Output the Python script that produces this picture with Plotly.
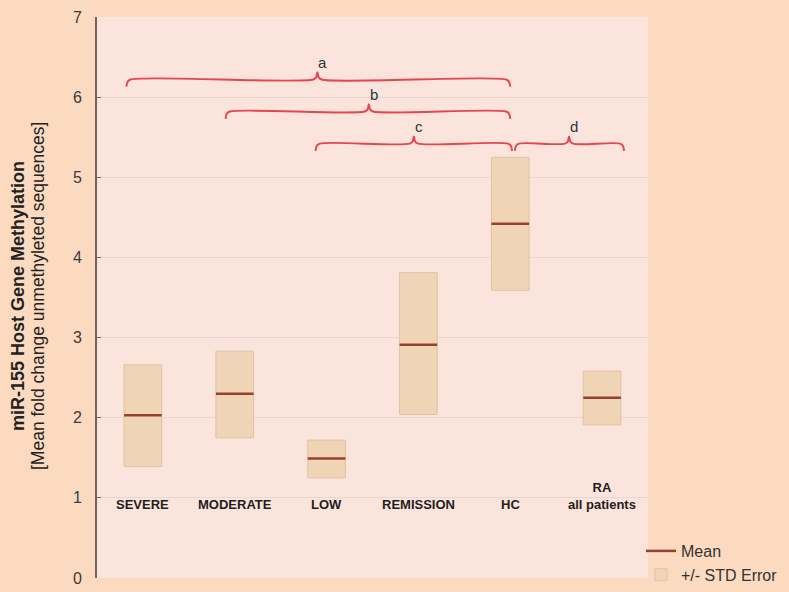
import plotly.graph_objects as go

# groups and values
groups = ["SEVERE", "MODERATE", "LOW", "REMISSION", "HC", "RA<br>all patients"]
mean_vals = [2.03, 2.30, 1.49, 2.91, 4.42, 2.25]
se_low = [1.39, 1.75, 1.25, 2.04, 3.59, 1.91]
se_high = [2.66, 2.83, 1.72, 3.81, 5.25, 2.58]

# significance brackets: label, start, end, tip position, height
br_labels = ["a", "b", "c", "d"]
br_start = [-0.18, 0.90, 1.88, 4.05]
br_end = [4.00, 4.00, 4.02, 5.24]
br_tip = [1.90, 2.46, 2.95, 4.64]
br_y = [6.22, 5.82, 5.42, 5.42]

ytick_vals = [0, 1, 2, 3, 4, 5, 6, 7]

paper_bg = "#fcdabf"
plot_bg = "#fbe4db"
box_fill = "#efd4b6"
box_line = "#e0c2a4"
mean_col = "#98402f"
brace_col = "#e6464f"
axis_col = "#75625a"
font_fam = "Liberation Sans, Arial, sans-serif"

W, H = 789, 592
box_w = 0.41
xpos = list(range(len(groups)))

fig = go.Figure()

# +/- STD error boxes
fig.add_trace(go.Bar(
    x=xpos, y=[h - l for h, l in zip(se_high, se_low)], base=se_low,
    width=box_w, marker=dict(color=box_fill, line=dict(color=box_line, width=1)),
    name="+/- STD Error", hoverinfo="skip"))

# mean lines
mx, my = [], []
for i, m in zip(xpos, mean_vals):
    mx += [i - box_w / 2, i + box_w / 2, None]
    my += [m, m, None]
fig.add_trace(go.Scatter(x=mx, y=my, mode="lines", line=dict(color=mean_col, width=2.5),
                         name="Mean", hoverinfo="skip"))


def brace(x0, x1, xp, y):
    hx, hy = 0.045, 0.09
    xs = [x0, x0 + hx * 0.3, x0 + hx, xp - hx, xp - hx * 0.3, xp, xp + hx * 0.3, xp + hx,
          x1 - hx, x1 - hx * 0.3, x1]
    ys = [y - hy, y - hy * 0.3, y, y, y + hy * 0.3, y + hy, y + hy * 0.3, y,
          y, y - hy * 0.3, y - hy]
    return xs, ys


for lab, x0, x1, xp, y in zip(br_labels, br_start, br_end, br_tip, br_y):
    bx, by = brace(x0, x1, xp, y)
    fig.add_trace(go.Scatter(x=bx, y=by, mode="lines", line=dict(color=brace_col, width=2, shape="spline"),
                             showlegend=False, hoverinfo="skip"))
    fig.add_annotation(x=xp, y=y, text=lab, showarrow=False, xshift=5, yshift=17,
                       font=dict(size=15, color="#333333", family=font_fam))

# group labels inside the plot, just under y = 1
for i, g in zip(xpos, groups):
    fig.add_annotation(x=i, y=1, text="<b>" + g + "</b>", showarrow=False, yanchor="bottom",
                       yshift=-16, font=dict(size=13, color="#1e1e1e", family=font_fam))

# y axis title, two lines
fig.add_annotation(xref="paper", yref="paper", x=18 / W, y=0.5, xanchor="center", yanchor="middle",
                   textangle=-90, showarrow=False,
                   text="<b>miR-155 Host Gene Methylation</b>",
                   font=dict(size=18, color="#222222", family=font_fam))
fig.add_annotation(xref="paper", yref="paper", x=38 / W, y=0.5, xanchor="center", yanchor="middle",
                   textangle=-90, showarrow=False,
                   text="[Mean fold change unmethyleted sequences]",
                   font=dict(size=17.5, color="#222222", family=font_fam))

fig.update_layout(
    width=W, height=H,
    margin=dict(l=0, r=0, t=0, b=0),
    paper_bgcolor=paper_bg, plot_bgcolor=plot_bg,
    font=dict(family=font_fam, color="#333333"),
    barmode="overlay",
    showlegend=True,
    legend=dict(x=641 / W, y=0, xanchor="left", yanchor="bottom", bgcolor="rgba(0,0,0,0)",
                traceorder="reversed", font=dict(size=16, color="#333333"), itemwidth=30,
                tracegroupgap=0),
)
fig.update_xaxes(range=[-0.5, 5.5], domain=[97 / W, 648 / W], showgrid=False, zeroline=False,
                 showticklabels=False, showline=False)
fig.update_yaxes(range=[0, 7], domain=[14 / H, 575 / H], tickvals=ytick_vals, showgrid=True,
                 gridcolor="#e9d7d2", gridwidth=1, automargin=False,
                 zeroline=False, showline=True, linecolor=axis_col, linewidth=2,
                 ticks="inside", ticklen=4, tickcolor=axis_col, ticklabelstandoff=10,
                 tickfont=dict(size=16, color="#3a3a3a", family=font_fam))

fig.write_html("out.html", config={"displayModeBar": False},
               post_script="document.body.style.margin='0';")
